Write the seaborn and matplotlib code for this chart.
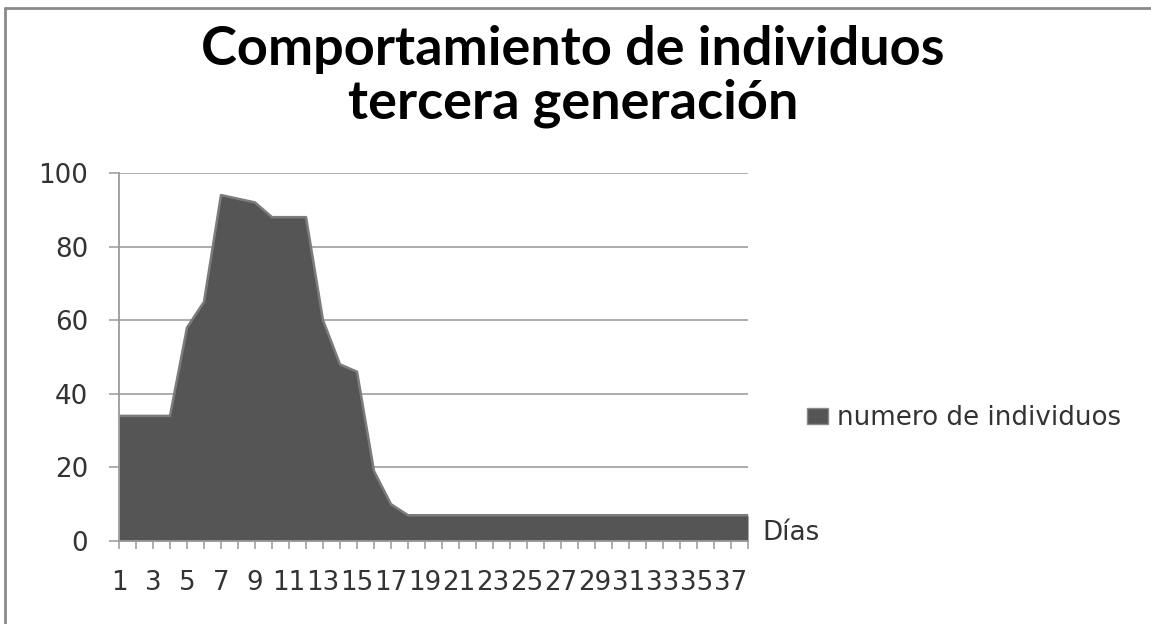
import matplotlib
matplotlib.use("Agg")
import matplotlib.pyplot as plt
from matplotlib.lines import Line2D
from matplotlib.patches import Patch
import seaborn as sns
import pandas as pd
import numpy as np

# ---- data ----
dias = list(range(1, 39))
individuos = [34, 34, 34, 34, 58, 65, 94, 93, 92, 88, 88, 88, 60, 48, 46, 19, 10, 7,
              7, 7, 7, 7, 7, 7, 7, 7, 7, 7, 7, 7, 7, 7, 7, 7, 7, 7, 7, 7]
x_labels = [str(d) if d % 2 == 1 else "" for d in dias]
y_ticks = [0, 20, 40, 60, 80, 100]
title_lines = ["Comportamiento de individuos", "tercera generación"]
series_name = "numero de individuos"
x_title = "Días"

df = pd.DataFrame({"dia": dias, "n": individuos})

sns.set_theme(style="white")
plt.rcParams["font.family"] = ["DejaVu Sans"]

W, H = 1151, 624
fig = plt.figure(figsize=(W / 100, H / 100), dpi=100)
fig.patch.set_facecolor("white")

left, right, top, bottom = 119, 748, 173, 541
ax = fig.add_axes([left / W, (H - bottom) / H, (right - left) / W, (bottom - top) / H])

fill_color = "#555555"
ax.fill_between(df["dia"], df["n"], 0, color=fill_color, linewidth=0, zorder=2)
sns.lineplot(data=df, x="dia", y="n", ax=ax, color="#7c7c7c", linewidth=1.8, zorder=3, legend=False)

ax.set_xlim(1, 38)
ax.set_ylim(0, 100)
ax.set_yticks(y_ticks)
ax.set_yticklabels([str(v) for v in y_ticks])
ax.set_xticks(dias)
ax.set_xticklabels(x_labels)
ax.set_xlabel("")
ax.set_ylabel("")

ax.grid(axis="y", color="#a6a6a6", linewidth=1.3, zorder=1)
ax.grid(axis="x", visible=False)
for s in ["top", "right"]:
    ax.spines[s].set_visible(False)
for s in ["left", "bottom"]:
    ax.spines[s].set_color("#9a9a9a")
    ax.spines[s].set_linewidth(1.3)
    ax.spines[s].set_zorder(4)

fs = 18.8
ax.tick_params(axis="y", direction="out", length=7.2, width=1.1, color="#9a9a9a",
               labelsize=fs, labelcolor="#333333", pad=15)
ax.tick_params(axis="x", direction="out", length=6, width=1.1, color="#9a9a9a",
               labelsize=fs, labelcolor="#333333", pad=15)
ax.tick_params(left=True, bottom=True)

# title
tfont = dict(family=["Lato", "DejaVu Sans"], fontweight="bold",
             fontsize=39, color="black", ha="center", va="baseline")
fig.text(573 / W, (H - 65) / H, title_lines[0], **tfont)
fig.text(573 / W, (H - 119) / H, title_lines[1], **tfont)

# x axis title
fig.text(762 / W, (H - 533) / H, x_title, fontsize=fs, color="#333333", va="center", ha="left")

# legend
handle = Patch(facecolor=fill_color, edgecolor="#8a8a8a", linewidth=1)
fig.legend([handle], [series_name], loc="center left",
           bbox_to_anchor=(807 / W, (H - 418) / H), frameon=False,
           fontsize=fs, labelcolor="#333333", handlelength=0.8, handleheight=0.6,
           handletextpad=0.35, borderpad=0, borderaxespad=0)

# outer frame (top and left visible)
fig.add_artist(Line2D([5 / W, 1], [(H - 8) / H, (H - 8) / H], transform=fig.transFigure,
                      color="#8a8a8a", linewidth=2))
fig.add_artist(Line2D([5 / W, 5 / W], [0, (H - 8) / H], transform=fig.transFigure,
                      color="#8a8a8a", linewidth=2))

fig.savefig("out.png", dpi=100, facecolor="white")
